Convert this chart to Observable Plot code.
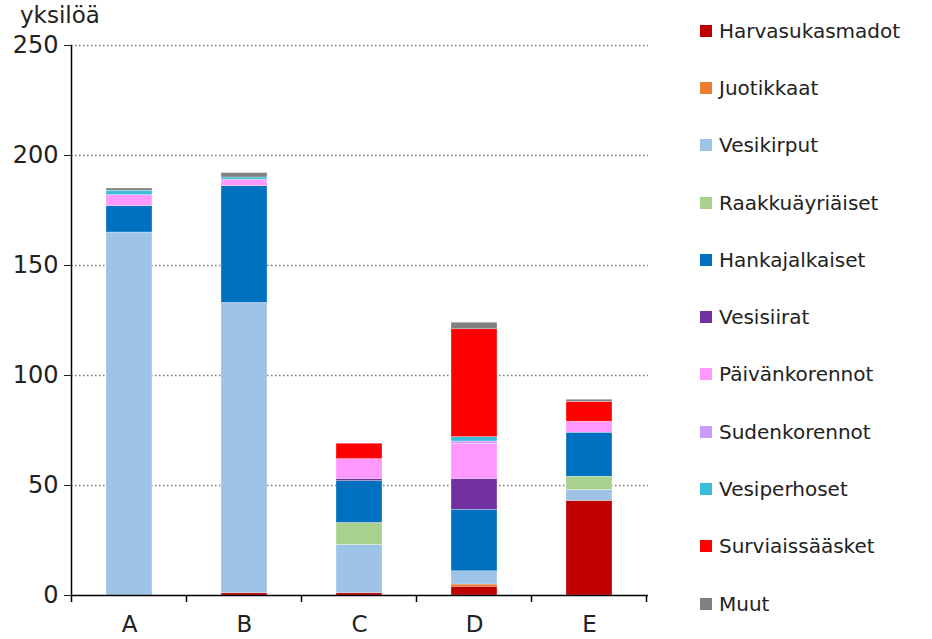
<!DOCTYPE html>
<html><head><meta charset="utf-8">
<script src="https://cdn.jsdelivr.net/npm/d3@7"></script>
<script src="https://cdn.jsdelivr.net/npm/@observablehq/plot@0.6"></script>
<style>
body{margin:0;background:#fff;font-family:"DejaVu Sans",sans-serif;}
#wrap{position:relative;width:932px;height:639px;}
#ylab{position:absolute;left:20px;top:2px;font-size:23px;color:#222;}
#legend{position:absolute;left:700px;top:2px;}
.li{display:flex;align-items:center;height:57.3px;font-size:20px;color:#222;}
.sw{width:12px;height:12px;margin-right:7px;}
</style></head>
<body><div id="wrap"><div id="chart"></div><div id="ylab">yksilöä</div><div id="legend"></div></div>
<script>
const sites = ["A","B","C","D","E"];
const species = ["Harvasukasmadot","Juotikkaat","Vesikirput","Raakkuäyriäiset","Hankajalkaiset","Vesisiirat","Päivänkorennot","Sudenkorennot","Vesiperhoset","Surviaissääsket","Muut"];
const colors = ["#C00000","#ED7D31","#9DC3E6","#A9D18E","#0070C0","#7030A0","#FF99FF","#CC99FF","#3DBCDC","#FF0000","#808080"];
const harvasukasmadot = [0,1,1,4,43];
const juotikkaat      = [0,0,0,1,0];
const vesikirput      = [165,132,22,6,5];
const raakkuayriaiset = [0,0,10,0,6];
const hankajalkaiset  = [12,53,19,28,20];
const vesisiirat      = [0,0,1,14,0];
const paivankorennot  = [5,3,9,16,5];
const sudenkorennot   = [0,0,0,1,0];
const vesiperhoset    = [2,1,0,2,0];
const surviaissaasket = [0,0,7,49,9];
const muut            = [1,2,0,3,1];
const yTicks = [0,50,100,150,200,250];

const seriesValues = [harvasukasmadot,juotikkaat,vesikirput,raakkuayriaiset,hankajalkaiset,vesisiirat,paivankorennot,sudenkorennot,vesiperhoset,surviaissaasket,muut];
const data = [];
species.forEach((s,i)=>sites.forEach((site,j)=>data.push({site, species:s, value:seriesValues[i][j]})));

const boundaryTicks = (index, scales, values, dims) => {
  const x = scales.x, step = x.step();
  const g = d3.create("svg:g");
  const y0 = dims.height - dims.marginBottom;
  const edges = sites.map(s => x(s) - (step - x.bandwidth())/2);
  edges.push(edges[edges.length-1] + step);
  for (const e of edges) g.append("line").attr("x1",e).attr("x2",e).attr("y1",y0).attr("y2",y0+7).attr("stroke","#000").attr("stroke-width",1.5);
  return g.node();
};

const chart = Plot.plot({
  width: 660, height: 639,
  marginLeft: 71, marginRight: 12, marginTop: 45, marginBottom: 44,
  style: {fontFamily: "DejaVu Sans, sans-serif", fontSize: "20px", color: "#222"},
  x: {domain: sites, paddingInner: 0.6, paddingOuter: 0.3, label: null},
  y: {domain: [0,250], label: null},
  color: {domain: species, range: colors},
  marks: [
    Plot.gridY(yTicks.filter(d=>d>0), {stroke: "#777", strokeOpacity: 1, strokeDasharray: "1.5,2.5", strokeWidth: 1.5}),
    Plot.barY(data, {x: "site", y: "value", fill: "species", stroke: "white", strokeWidth: 0.5, strokeOpacity: 0.6}),
    Plot.ruleY([0], {stroke: "#000", strokeWidth: 1.5}),
    Plot.ruleX([0], {x: () => sites[0], render: boundaryTicks}),
    Plot.axisY({ticks: yTicks, tickSize: 7, tickPadding: 6, fontSize: 24, label: null}),
    Plot.axisX({tickSize: 0, tickPadding: 20, fontSize: 23, label: null}),
    Plot.frame({anchor: "left", stroke: "#000", strokeWidth: 1.5})
  ]
});
document.getElementById("chart").append(chart);

const leg = document.getElementById("legend");
species.forEach((s,i)=>{
  const d = document.createElement("div"); d.className="li";
  d.innerHTML = `<span class="sw" style="background:${colors[i]}"></span><span>${s}</span>`;
  leg.append(d);
});
</script></body></html>
